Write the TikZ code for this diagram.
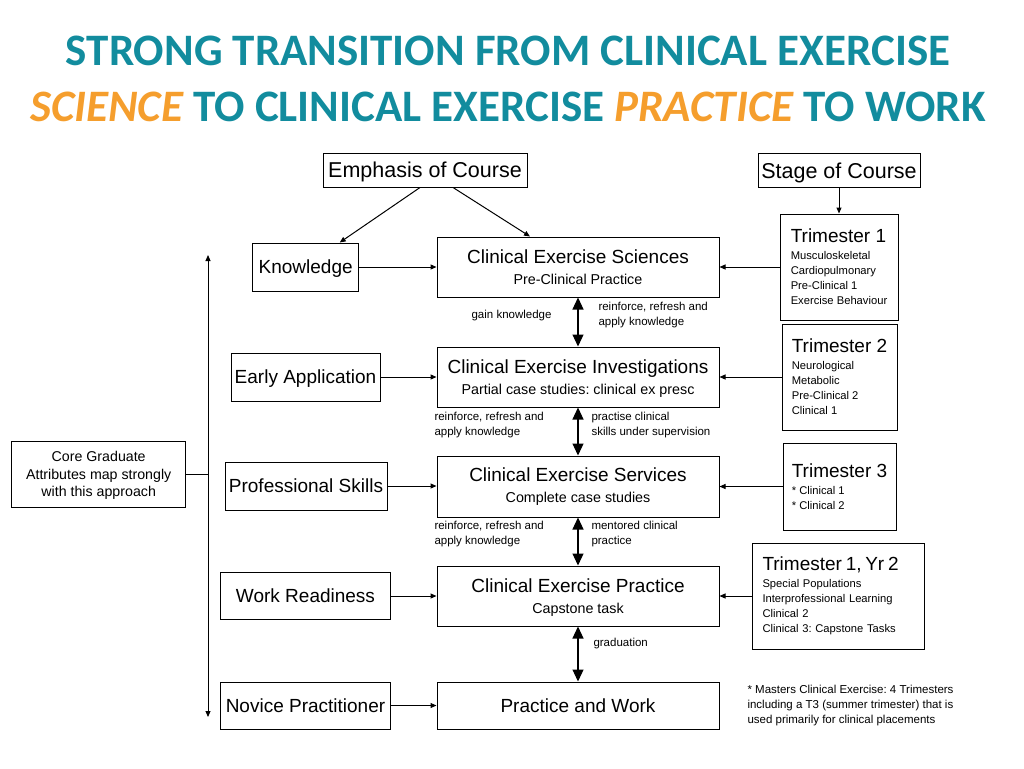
\documentclass[tikz,border=0pt]{standalone}
\usepackage{fontspec}
\setmainfont{Liberation Sans}
\newfontfamily\headfont{Carlito}
\usetikzlibrary{arrows.meta,calc}
\definecolor{headteal}{RGB}{18,140,158}
\definecolor{headorange}{RGB}{245,158,45}
\frenchspacing
\def\midx{578}
\def\midwidth{282pt}
\def\sidex{305.5}

\begin{document}
\begin{tikzpicture}[x=1pt, y=-1pt, line width=1pt,
                    every node/.style={inner sep=0pt},
                    box/.style={draw, line width=1pt, align=center},
                    midbox/.style={box, minimum width=\midwidth, minimum height=60pt, font=\fontsize{14.3}{21}\selectfont},
                    sidebox/.style={box, minimum height=48pt, text depth=0pt, font=\fontsize{19}{22}\selectfont},
                    termbox/.style={box, align=left, font=\fontsize{11.2}{15}\selectfont},
                    note/.style={align=left, font=\fontsize{11.5}{15}\selectfont},
                    tip/.style={-{Triangle[length=6pt,width=5pt]}},
                    dtip/.style={{Triangle[length=6pt,width=5pt]}-{Triangle[length=6pt,width=5pt]}},
                    bigtip/.style={{Triangle[length=12pt,width=11pt]}-{Triangle[length=12pt,width=11pt]}, line width=1.2pt}]
    \useasboundingbox (0,0) rectangle (1024,768);
    \node[anchor=base, text=headteal, font=\fontsize{45}{50}\headfont\bfseries] (title1) at (508,65)
        {STRONG TRANSITION FROM CLINICAL EXERCISE};
    \node[anchor=base, text=headteal, font=\fontsize{45}{50}\headfont\bfseries] (title2) at (508,121.7)
        {\textcolor{headorange}{\itshape SCIENCE} TO CLINICAL EXERCISE \textcolor{headorange}{\itshape PRACTICE} TO WORK};
    %
    \node[box, text depth=0pt, font=\fontsize{21.5}{24}\selectfont, minimum width=204pt, minimum height=34pt] (emph) at (425,170) {Emphasis of Course};
    \node[box, text depth=0pt, font=\fontsize{21.5}{24}\selectfont, minimum width=162pt, minimum height=34pt] (stage) at (839,170.5) {Stage of Course};
    %
    \node[sidebox, minimum width=106pt] (know) at (305.7,267) {Knowledge};
    \node[sidebox, minimum width=149pt] (early) at (\sidex,377) {Early Application};
    \node[sidebox, minimum width=162pt] (prof) at (306,486) {Professional Skills};
    \node[sidebox, minimum width=170pt, minimum height=47pt] (work) at (\sidex,596) {Work Readiness};
    \node[sidebox, minimum width=170pt, minimum height=47pt] (novice) at (\sidex,705.5) {Novice Practitioner};
    %
    \node[midbox] (ces) at (\midx,267) {{\fontsize{19}{22}\selectfont Clinical Exercise Sciences}\\Pre-Clinical Practice};
    \node[midbox, text depth=0pt] (cei) at (\midx,377) {{\fontsize{19}{22}\selectfont Clinical Exercise Investigations}\\Partial case studies: clinical ex presc};
    \node[midbox, minimum height=61pt] (csv) at (\midx,486.5) {{\fontsize{19}{22}\selectfont Clinical Exercise Services}\\Complete case studies};
    \node[midbox, text depth=0pt] (cep) at (\midx,596) {{\fontsize{19}{22}\selectfont Clinical Exercise Practice}\\Capstone task};
    \node[midbox, minimum height=47pt, text depth=0pt, font=\fontsize{19}{22}\selectfont] (pw) at (\midx,705.5) {Practice and Work};
    %
    \node[termbox, minimum width=118pt, minimum height=106pt] (tri1) at (839,267)
        {{\fontsize{19}{22}\selectfont Trimester 1}\\[2pt]Musculoskeletal\\Cardiopulmonary\\Pre-Clinical 1\\Exercise Behaviour};
    \node[termbox, minimum width=115pt, minimum height=106pt] (tri2) at (839.5,377)
        {{\fontsize{19}{22}\selectfont Trimester 2}\\[2pt]Neurological\\Metabolic\\Pre-Clinical 2\\Clinical 1};
    \node[termbox, minimum width=113pt, minimum height=87pt] (tri3) at (839.5,486.5)
        {{\fontsize{19}{22}\selectfont Trimester 3}\\[2pt]* Clinical 1\\* Clinical 2};
    \node[termbox, inner xsep=10pt, text width=152pt, minimum height=106pt] (triyr) at (838.5,596)
        {{\fontsize{19}{22}\selectfont Trimester 1, Yr 2}\\[2pt]Special Populations\\Interprofessional Learning\\Clinical 2\\Clinical 3: Capstone Tasks};
    %
    \node[box, text depth=0pt, minimum width=174pt, minimum height=66pt, font=\fontsize{14.2}{17.5}\selectfont] (core) at (98.7,474)
        {Core Graduate\\Attributes map strongly\\with this approach};
    \coordinate (vtop) at (208,255);
    \coordinate (vbot) at (208,717);
    \draw[dtip] (vtop) -- (vbot);
    \draw (core.east) -- (core.east -| vtop);
    %
    \draw[tip] ($(emph.south)+(-5,0)$) -- ($(know.north)+(34,0)$);
    \draw[tip] ($(emph.south)+(28,0)$) -- ($(ces.north)+(-48,0)$);
    \draw[tip] (stage.south) -- (tri1.north);
    \foreach \a/\b in {know/ces, early/cei, prof/csv, work/cep, novice/pw}
        \draw[tip] (\a.east) -- (\a.east -| \b.west);
    \foreach \a/\b in {tri1/ces, tri2/cei, tri3/csv, triyr/cep}
        \draw[tip] (\a.west) -- (\a.west -| \b.east);
    \foreach \a/\b in {ces/cei, cei/csv, csv/cep, cep/pw}
        \draw[bigtip] (\a.south) -- (\b.north);
    %
    \node[note, anchor=east] (gain) at (552,316) {gain knowledge};
    \node[note, anchor=west] (refresh1) at (598,315.5) {reinforce, refresh and\\apply knowledge};
    \node[note, anchor=west] (refresh2) at (434,425.5) {reinforce, refresh and\\apply knowledge};
    \node[note, anchor=west] (practise) at (591,425.5) {practise clinical\\skills under supervision};
    \node[note, anchor=west] (refresh3) at (434,534.5) {reinforce, refresh and\\apply knowledge};
    \node[note, anchor=west] (mentored) at (591,534.5) {mentored clinical\\practice};
    \node[note, anchor=west] (grad) at (593,644) {graduation};
    \node[note, anchor=west] (masters) at (747,706)
        {* Masters Clinical Exercise: 4 Trimesters\\including a T3 (summer trimester) that is\\used primarily for clinical placements};
\end{tikzpicture}
\end{document}
